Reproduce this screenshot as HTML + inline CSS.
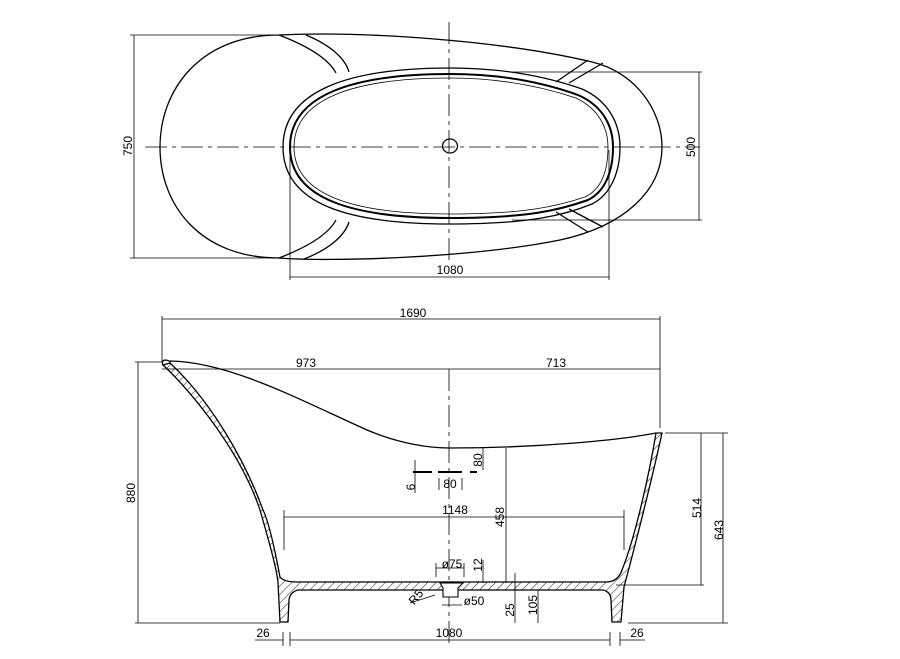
<!DOCTYPE html>
<html><head><meta charset="utf-8"><style>
html,body{margin:0;padding:0;background:#fff;}
svg{display:block}
text{font-family:"Liberation Sans",sans-serif;font-size:12px;fill:#000}
</style></head><body>
<svg width="900" height="659" viewBox="0 0 900 659" xmlns="http://www.w3.org/2000/svg">
<defs>
<pattern id="h" width="6" height="6" patternUnits="userSpaceOnUse" patternTransform="rotate(45)">
<line x1="0" y1="0" x2="0" y2="6" stroke="#000" stroke-width="0.9"/>
</pattern>
</defs>
<g fill="none" stroke="#000">
<g stroke-width="0.8">
<line x1="130" y1="35" x2="279" y2="35"/>
<line x1="130" y1="258" x2="279" y2="258"/>
<line x1="134" y1="35" x2="134" y2="258"/>
<line x1="512" y1="72" x2="702" y2="72"/>
<line x1="512" y1="220" x2="702" y2="220"/>
<line x1="699" y1="72" x2="699" y2="220"/>
<line x1="290" y1="150" x2="290" y2="280"/>
<line x1="609" y1="150" x2="609" y2="280"/>
<line x1="290" y1="277" x2="609" y2="277"/>
<line x1="145" y1="147" x2="700" y2="147" stroke-dasharray="22,5,4,5"/>
<line x1="449" y1="22" x2="449" y2="263" stroke-dasharray="22,5,4,5"/>
</g>
<g stroke-width="1.3">
<path d="M279,35 C200,35 160,90 160,147 C160,205 200,258 279,258 C330,262 470,258 560,240 C625,226 662,190 662,147 C662,110 635,72 592,62 C500,40 360,31 279,35 Z"/>
<path d="M279,35 C305,45 328,58 336,73"/>
<path d="M306,35 C330,45 345,58 349,72"/>
<path d="M279,258 C305,248 328,235 336,220"/>
<path d="M304,259 C330,249 345,235 349,222"/>
<line x1="556" y1="82" x2="588" y2="60"/>
<line x1="569" y1="83" x2="603" y2="63"/>
<line x1="556" y1="212" x2="588" y2="232"/>
<line x1="569" y1="209" x2="603" y2="227"/>
<path d="M450,68 C350,68 283,90 283,147 C283,205 350,224 450,224 C530,224 565,215 592,204 C612,194 620,170 620,147 C620,122 607,100 582,89 C545,76 500,68 450,68 Z"/>
<path d="M450,74 C355,74 290,94 290,147 C290,200 355,218 450,218 C528,218 560,210 588,200 C606,191 613,170 613,147 C613,124 601,105 578,95 C542,82 500,74 450,74 Z" stroke-width="2"/>
<path d="M450,78 C358,78 294,97 294,147 C294,197 358,214 450,214 C526,214 558,206 585,197 C602,189 608,170 608,147 C608,126 597,108 576,98 C540,86 500,78 450,78 Z" stroke-width="0.8"/>
<ellipse cx="450" cy="146" rx="7.5" ry="7"/>
</g>
<g stroke-width="0.8">
<line x1="162" y1="316" x2="162" y2="362"/>
<line x1="660" y1="316" x2="660" y2="428"/>
<line x1="162" y1="319" x2="660" y2="319"/>
<line x1="162" y1="369" x2="660" y2="369"/>
<line x1="449" y1="369" x2="449" y2="645" stroke-dasharray="22,5,4,5"/>
<line x1="135" y1="362" x2="162" y2="362"/>
<line x1="138" y1="362" x2="138" y2="623"/>
<line x1="135" y1="623" x2="280" y2="623"/>
<line x1="628" y1="623" x2="728" y2="623"/>
<line x1="665" y1="433" x2="728" y2="433"/>
<line x1="616" y1="585" x2="704" y2="585"/>
<line x1="701" y1="433" x2="701" y2="585"/>
<line x1="723" y1="433" x2="723" y2="623"/>
<line x1="284" y1="517" x2="624" y2="517"/>
<line x1="284" y1="510" x2="284" y2="550"/>
<line x1="624" y1="510" x2="624" y2="550"/>
<line x1="506" y1="448" x2="506" y2="583"/>
<line x1="483" y1="448" x2="483" y2="470"/>
<line x1="415" y1="460" x2="415" y2="493"/>
<line x1="439" y1="478" x2="439" y2="490"/>
<line x1="462" y1="478" x2="462" y2="490"/>
<line x1="436" y1="568" x2="464" y2="568"/>
<line x1="436" y1="563" x2="436" y2="577"/>
<line x1="464" y1="563" x2="464" y2="577"/>
<line x1="483" y1="560" x2="483" y2="583"/>
<line x1="442" y1="605" x2="462" y2="605"/>
<line x1="515" y1="573" x2="515" y2="623"/>
<line x1="538" y1="590" x2="538" y2="623"/>
<line x1="410" y1="603" x2="435" y2="595"/>
<line x1="290" y1="640" x2="610" y2="640"/>
<line x1="283" y1="632" x2="283" y2="646"/>
<line x1="290" y1="632" x2="290" y2="646"/>
<line x1="610" y1="632" x2="610" y2="646"/>
<line x1="620" y1="632" x2="620" y2="646"/>
<line x1="255" y1="640" x2="283" y2="640"/>
<line x1="620" y1="640" x2="645" y2="640"/>
</g>
<g stroke-width="2">
<line x1="413" y1="472" x2="432" y2="472"/>
<line x1="438" y1="472" x2="462" y2="472"/>
<line x1="470" y1="472" x2="477" y2="472"/>
</g>
<path d="M163,365 C190,390 240,450 260,510 C270,545 277,570 278,583 L280,622 L288,622 L289,600 Q290,592 298,590 L603,590 Q611,592 611,600 L612,622 L621,622 L624,587 C638,535 654,470 662,433 L656,433 C650,470 636,535 622,570 Q618,582 606,582 L297,582 Q284,582 280,577 C274,545 268,520 263,510 C245,460 210,400 170,363 Z" fill="url(#h)" stroke-width="1.3"/>
<path d="M170,361 C230,362 300,400 367,430 C400,444 430,448 449,448 C540,448 620,440 656,433" stroke-width="1.3"/>
<path d="M163,365 Q161,360 166,360 Q171,361 170,363" stroke-width="1.3"/>
<path d="M440,583 L443,588 L443,597 L458,597 L458,588 L463,583 Z" fill="#fff" stroke-width="1.1"/>
</g>
<g>
<text x="128" y="150" transform="rotate(-90 128 146)" text-anchor="middle">750</text>
<text x="691" y="151" transform="rotate(-90 691 147)" text-anchor="middle">500</text>
<text x="450" y="274" text-anchor="middle">1080</text>
<text x="413" y="317" text-anchor="middle">1690</text>
<text x="306" y="367" text-anchor="middle">973</text>
<text x="556" y="367" text-anchor="middle">713</text>
<text x="131" y="497" transform="rotate(-90 131 493)" text-anchor="middle">880</text>
<text x="697" y="512" transform="rotate(-90 697 508)" text-anchor="middle">514</text>
<text x="719" y="534" transform="rotate(-90 719 530)" text-anchor="middle">643</text>
<text x="478" y="464" transform="rotate(-90 478 460)" text-anchor="middle">80</text>
<text x="411" y="491" transform="rotate(-90 411 487)" text-anchor="middle">6</text>
<text x="450" y="488" text-anchor="middle">80</text>
<text x="455" y="514" text-anchor="middle">1148</text>
<text x="500" y="521" transform="rotate(-90 500 517)" text-anchor="middle">458</text>
<text x="452" y="568" text-anchor="middle">ø75</text>
<text x="478" y="569" transform="rotate(-90 478 565)" text-anchor="middle">12</text>
<text x="474" y="605" text-anchor="middle">ø50</text>
<text x="416" y="601" transform="rotate(-50 416 597)" text-anchor="middle">R5</text>
<text x="510" y="614" transform="rotate(-90 510 610)" text-anchor="middle">25</text>
<text x="533" y="609" transform="rotate(-90 533 605)" text-anchor="middle">105</text>
<text x="449" y="637" text-anchor="middle">1080</text>
<text x="263" y="637" text-anchor="middle">26</text>
<text x="637" y="637" text-anchor="middle">26</text>
</g>
</svg>
</body></html>
